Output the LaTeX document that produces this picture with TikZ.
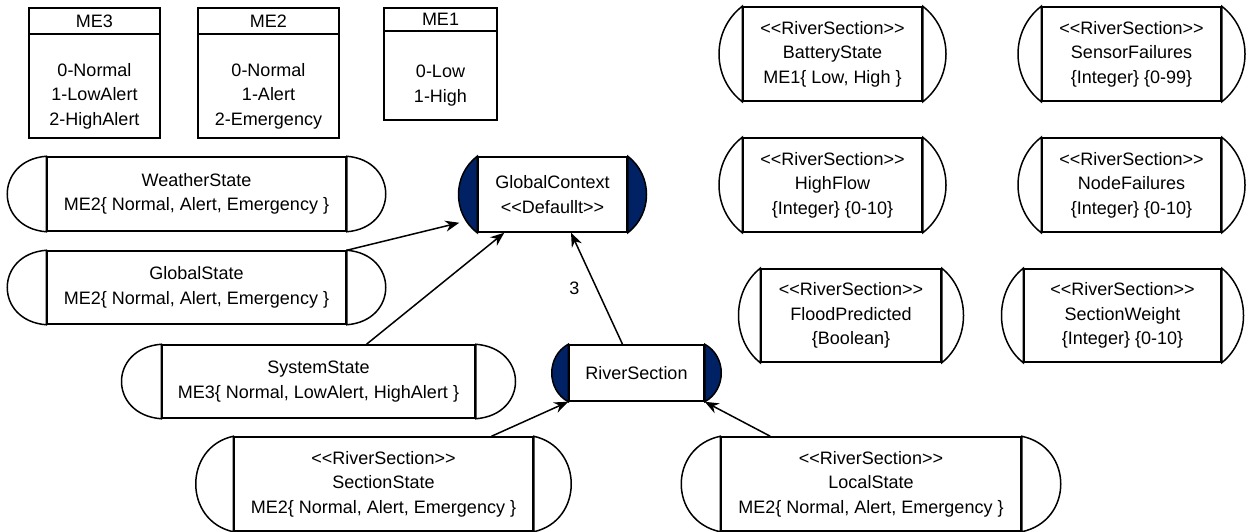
\documentclass[tikz,border=0pt]{standalone}
\usepackage{fontspec}
\setmainfont{Liberation Sans}
\usepackage{tikz}
\usetikzlibrary{arrows.meta,positioning,calc}

\definecolor{capnavy}{RGB}{0,33,99}

% round caps left and right of a variable box
\newcommand{\drawcaps}[4]{%
  \draw[capline,fill=#4] (#1.north west) .. controls +(-#2,#3) and +(-#2,-#3) .. (#1.south west) -- cycle;
  \draw[capline,fill=#4] (#1.north east) .. controls +(#2,#3) and +(#2,-#3) .. (#1.south east) -- cycle;
}

\begin{document}
\begin{tikzpicture}[x=0.5pt,y=-0.5pt,->,>={Stealth[length=7pt,width=5.5pt]},line width=0.75pt,
                    font=\fontsize{9}{12.25}\selectfont]
  \tikzstyle{capline}=[-,draw=black,line width=0.75pt]
  \tikzstyle{var}=[draw,fill=white,line width=0.75pt,align=center,inner sep=0pt]
  \tikzstyle{enumhead}=[draw,line width=0.6pt,inner sep=0pt,outer sep=0pt,minimum height=13pt]
  \tikzstyle{enumbody}=[draw,line width=0.6pt,inner sep=0pt,outer sep=0pt,align=center]

  \useasboundingbox (0,0) rectangle (1247,531);

  % enumerations
  \node[enumhead,minimum width=65.5pt]		(me3h) at (94.5,21)		{ME3};
  \node[enumbody,minimum width=65.5pt,minimum height=52pt]	(me3) [below=0pt of me3h]	{\rule{0pt}{16.6pt}0-Normal\\1-LowAlert\\2-HighAlert};
  \node[enumhead,minimum width=70.5pt]		(me2h) at (268.5,21)	{ME2};
  \node[enumbody,minimum width=70.5pt,minimum height=52pt]	(me2) [below=0pt of me2h]	{\rule{0pt}{16.6pt}0-Normal\\1-Alert\\2-Emergency};
  \node[enumhead,minimum width=56.5pt,minimum height=11.5pt]	(me1h) at (440.5,19.5)	{ME1};
  \node[enumbody,minimum width=56.5pt,minimum height=44.5pt]	(me1) [below=0pt of me1h]	{\rule{0pt}{16.6pt}0-Low\\1-High};

  % context and state variables
  \node[var,minimum width=149.5pt,minimum height=37pt]	(wst) at (196.5,194)	{WeatherState\\ME2\{ Normal, Alert, Emergency \}};
  \node[var,minimum width=149.5pt,minimum height=36.5pt]	(gst) at (196.5,287.5)	{GlobalState\\ME2\{ Normal, Alert, Emergency \}};
  \node[var,minimum width=156.5pt,minimum height=36.5pt]	(sys) at (318.5,381.5)	{SystemState\\ME3\{ Normal, LowAlert, HighAlert \}};
  \node[var,minimum width=74.5pt,minimum height=37.5pt]	(gctx) at (552.5,194.5)	{GlobalContext\\<{}<Defaullt>{}>};
  \node[var,minimum width=67.5pt,minimum height=28pt]	(river) at (636.5,373)	{RiverSection};
  \node[var,minimum width=149.5pt,minimum height=47pt]	(sect) at (383.5,484)	{<{}<RiverSection>{}>\\SectionState\\ME2\{ Normal, Alert, Emergency \}};
  \node[var,minimum width=150pt,minimum height=47pt]	(local) at (871,484)	{<{}<RiverSection>{}>\\LocalState\\ME2\{ Normal, Alert, Emergency \}};

  \node[var,minimum width=89.5pt,minimum height=47pt]	(batt) at (832.5,54)	{<{}<RiverSection>{}>\\BatteryState\\ME1\{ Low, High \}};
  \node[var,minimum width=89.5pt,minimum height=47pt]	(sens) [right of=batt,node distance=149.5pt]	{<{}<RiverSection>{}>\\SensorFailures\\\{Integer\} \{0-99\}};
  \node[var,minimum width=89.5pt,minimum height=47pt]	(hflow) [below of=batt,node distance=65.5pt]	{<{}<RiverSection>{}>\\HighFlow\\\{Integer\} \{0-10\}};
  \node[var,minimum width=89.5pt,minimum height=47pt]	(nodef) [below of=sens,node distance=65.5pt]	{<{}<RiverSection>{}>\\NodeFailures\\\{Integer\} \{0-10\}};
  \node[var,minimum width=90pt,minimum height=46.5pt]	(flood) at (851,315.5)	{<{}<RiverSection>{}>\\FloodPredicted\\\{Boolean\}};
  \node[var,minimum width=98.5pt,minimum height=46.5pt]	(sweight) at (1122.5,315.5)	{<{}<RiverSection>{}>\\SectionWeight\\\{Integer\} \{0-10\}};

  \drawcaps{wst}{52}{4}{white}
  \drawcaps{gst}{52}{4}{white}
  \drawcaps{sys}{53}{4}{white}
  \drawcaps{gctx}{25}{19}{capnavy}
  \drawcaps{river}{22}{12}{capnavy}
  \drawcaps{sect}{50}{11}{white}
  \drawcaps{local}{52}{11}{white}
  \drawcaps{batt}{31}{24}{white}
  \drawcaps{sens}{31}{24}{white}
  \drawcaps{hflow}{31}{24}{white}
  \drawcaps{nodef}{31}{24}{white}
  \drawcaps{flood}{29}{23}{white}
  \drawcaps{sweight}{29}{23}{white}

  \path (gst.north east)				edge 	([xshift=-9pt,yshift=5pt]gctx.south west);
  \path ([xshift=24pt]sys.north)		edge 	([xshift=13.5pt]gctx.south west);
  \path ([xshift=-7pt]river.north)		edge 	node[left=5pt] {3}	([xshift=9.25pt]gctx.south);
  \path ([xshift=54pt]sect.north)		edge 	(river.south west);
  \path ([xshift=25pt]local.north west)	edge 	(river.south east);

\end{tikzpicture}
\end{document}
